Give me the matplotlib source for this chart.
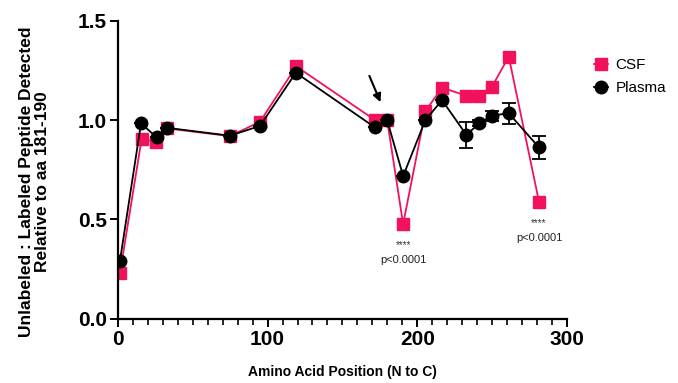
import matplotlib
matplotlib.use("Agg")
import matplotlib.pyplot as plt
from matplotlib.ticker import MultipleLocator

plt.rcParams['font.family'] = ['Liberation Sans', 'DejaVu Sans']

# Data
csf_x = [1.3, 15.8, 25.4, 32.5, 74.8, 94.9, 119.2, 171.7, 179.9, 190.6, 205.5, 216.6, 232.9, 241.4, 250.0, 261.2, 281.4]
csf_y = [0.228, 0.904, 0.891, 0.958, 0.919, 0.991, 1.27, 1.0, 1.0, 0.476, 1.045, 1.163, 1.122, 1.122, 1.168, 1.319, 0.589]

plasma_x = [1.3, 15.4, 25.8, 32.5, 74.8, 94.9, 118.9, 171.7, 179.9, 190.6, 205.5, 216.6, 232.9, 241.4, 250.0, 261.2, 281.4]
plasma_y = [0.29, 0.983, 0.913, 0.961, 0.921, 0.970, 1.238, 0.963, 1.0, 0.718, 1.0, 1.10, 0.925, 0.983, 1.022, 1.034, 0.862]
plasma_err = [0, 0, 0, 0, 0, 0, 0, 0, 0, 0, 0, 0, 0.067, 0.015, 0.025, 0.052, 0.056]

xticks = [0, 100, 200, 300]
yticks = [0.0, 0.5, 1.0, 1.5]

sig_x = [190.6, 281.4]
sig_star_y = [0.37, 0.48]
sig_p_y = [0.295, 0.404]

pink = '#F2125C'

fig = plt.figure(figsize=(6.78, 3.83), dpi=100)
ax = fig.add_axes([0.174, 0.168, 0.662, 0.778])

ax.plot(csf_x, csf_y, color=pink, lw=1.3, marker='s', ms=8.5, mec=pink, mfc=pink,
        label='CSF', zorder=2)
ax.errorbar(plasma_x, plasma_y, yerr=plasma_err, color='black', lw=1.3, marker='o', ms=9,
            capsize=5, capthick=1.3, elinewidth=1.3, zorder=3)
ax.plot([], [], color='black', lw=1.3, marker='o', ms=9, label='Plasma')

for x, ys, yp in zip(sig_x, sig_star_y, sig_p_y):
    ax.text(x, ys, '****', ha='center', va='center', fontsize=7, color='#333333')
    ax.text(x, yp, 'p<0.0001', ha='center', va='center', fontsize=8, color='#222222')

ax.annotate('', xy=(176.2, 1.077), xytext=(167.3, 1.235),
            arrowprops=dict(arrowstyle='-|>', color='black', lw=1.5, mutation_scale=12))

ax.set_xlim(0, 300)
ax.set_ylim(0, 1.5)
ax.set_xticks(xticks)
ax.set_yticks(yticks)
ax.set_yticklabels([f'{v:.1f}' for v in yticks])
ax.xaxis.set_minor_locator(MultipleLocator(10))

for s in ['top', 'right']:
    ax.spines[s].set_visible(False)
for s in ['left', 'bottom']:
    ax.spines[s].set_linewidth(1.6)

ax.tick_params(axis='both', which='major', length=6, width=1.4, labelsize=15, pad=2)
ax.tick_params(axis='x', which='minor', length=4, width=1.2)
for lab in ax.get_xticklabels() + ax.get_yticklabels():
    lab.set_fontweight('bold')

ax.set_xlabel('Amino Acid Position (N to C)', fontsize=10, fontweight='bold', labelpad=12)
ax.set_ylabel('Unlabeled : Labeled Peptide Detected\nRelative to aa 181-190', fontsize=12.5,
              fontweight='bold', linespacing=1.05)
ax.yaxis.set_label_coords(-0.152, 0.46)

leg = ax.legend(loc='upper left', bbox_to_anchor=(1.03, 0.92), frameon=False,
                fontsize=11, handlelength=0.9, handletextpad=0.5, labelspacing=0.6)

fig.savefig('out.png', dpi=100)
